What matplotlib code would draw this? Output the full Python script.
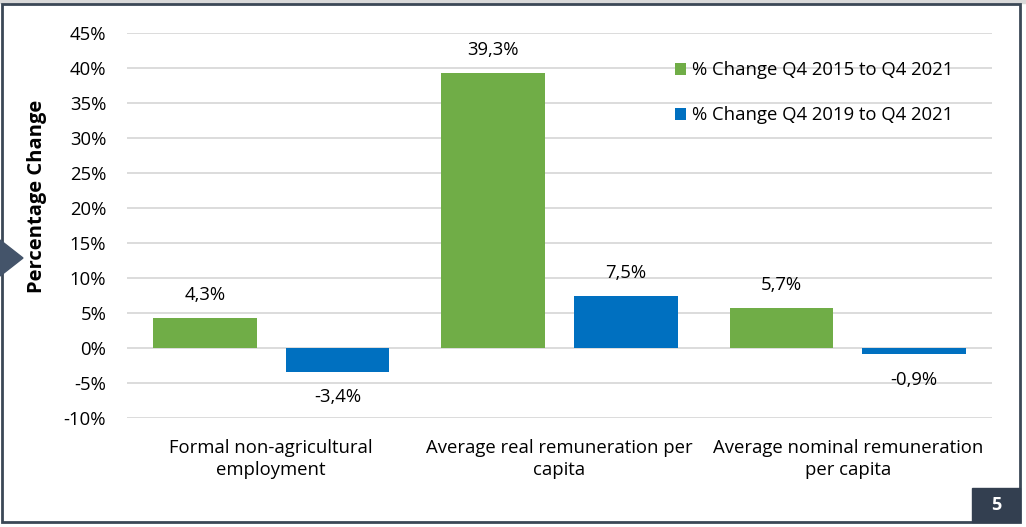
import numpy as np
import matplotlib.pyplot as plt
from matplotlib.patches import Rectangle, Polygon

plt.rcParams['font.family'] = ['Open Sans', 'DejaVu Sans']

categories = ["Formal non-agricultural\nemployment",
              "Average real remuneration per\ncapita",
              "Average nominal remuneration\nper capita"]
change_2015 = [4.3, 39.3, 5.7]
change_2019 = [-3.4, 7.5, -0.9]
series_names = ["% Change Q4 2015 to Q4 2021", "% Change Q4 2019 to Q4 2021"]
yticks = [-10, -5, 0, 5, 10, 15, 20, 25, 30, 35, 40, 45]

green = "#70AD47"
blue = "#0070C0"
fs = 13.3

fig = plt.figure(figsize=(10.26, 5.27), dpi=100)
ax = fig.add_axes([127 / 1026, 1 - 418 / 527, 865 / 1026, 385 / 527])

x = np.arange(len(categories))
w = 0.36
off = 0.23
b1 = ax.bar(x - off, change_2015, w, color=green, label=series_names[0], zorder=3)
b2 = ax.bar(x + off, change_2019, w, color=blue, label=series_names[1], zorder=3)

def fmt(v):
    return f"{v:.1f}%".replace(".", ",")

for bars, vals in [(b1, change_2015), (b2, change_2019)]:
    for r, v in zip(bars, vals):
        cx = r.get_x() + r.get_width() / 2
        if v >= 0:
            ax.annotate(fmt(v), (cx, v), xytext=(0, 10), textcoords="offset points",
                        ha="center", va="bottom", fontsize=fs)
        else:
            ax.annotate(fmt(v), (cx, v), xytext=(0, -12), textcoords="offset points",
                        ha="center", va="top", fontsize=fs)

ax.set_xlim(-0.5, 2.5)
ax.set_ylim(-10, 45)
ax.set_yticks(yticks)
ax.set_yticklabels([f"{t}%" for t in yticks], fontsize=fs)
ax.set_xticks(x)
ax.set_xticklabels(categories, fontsize=fs, linespacing=1.3)
ax.tick_params(length=0, axis="y", pad=15)
ax.tick_params(length=0, axis="x", pad=15)
ax.grid(axis="y", color="#D9D9D9", linewidth=1.3, zorder=0)
for s in ax.spines.values():
    s.set_visible(False)

ax.set_ylabel("Percentage Change", fontsize=14.5, fontweight="bold")
ax.yaxis.set_label_coords(-80 / 865, 0.575)

ax.legend(loc="upper left", bbox_to_anchor=(541 / 865, 1 - 21 / 385), frameon=False,
          fontsize=fs, handlelength=0.6, handleheight=0.6, handletextpad=0.3,
          labelspacing=1.45, borderaxespad=0)

# slide frame, arrow marker and page number
fig.patches.append(Rectangle((0, 1 - 3 / 527), 1, 3 / 527, transform=fig.transFigure,
                             color="#D9D9D9"))
fig.patches.append(Rectangle((2 / 1026, 5 / 527), 1018 / 1026, 518 / 527,
                             transform=fig.transFigure, fill=False,
                             edgecolor="#3B4856", linewidth=2))
fig.patches.append(Polygon([(0, 1 - 240 / 527), (23 / 1026, 1 - 258 / 527), (0, 1 - 276 / 527)],
                           closed=True, transform=fig.transFigure, color="#44546A"))
fig.patches.append(Rectangle((972 / 1026, 5 / 527), 48 / 1026, 34 / 527,
                             transform=fig.transFigure, color="#333F50"))
fig.text(996 / 1026, 1 - 505 / 527, "5", color="white", fontsize=13, fontweight="bold",
         ha="center", va="center")

fig.savefig("out.png", dpi=100)
